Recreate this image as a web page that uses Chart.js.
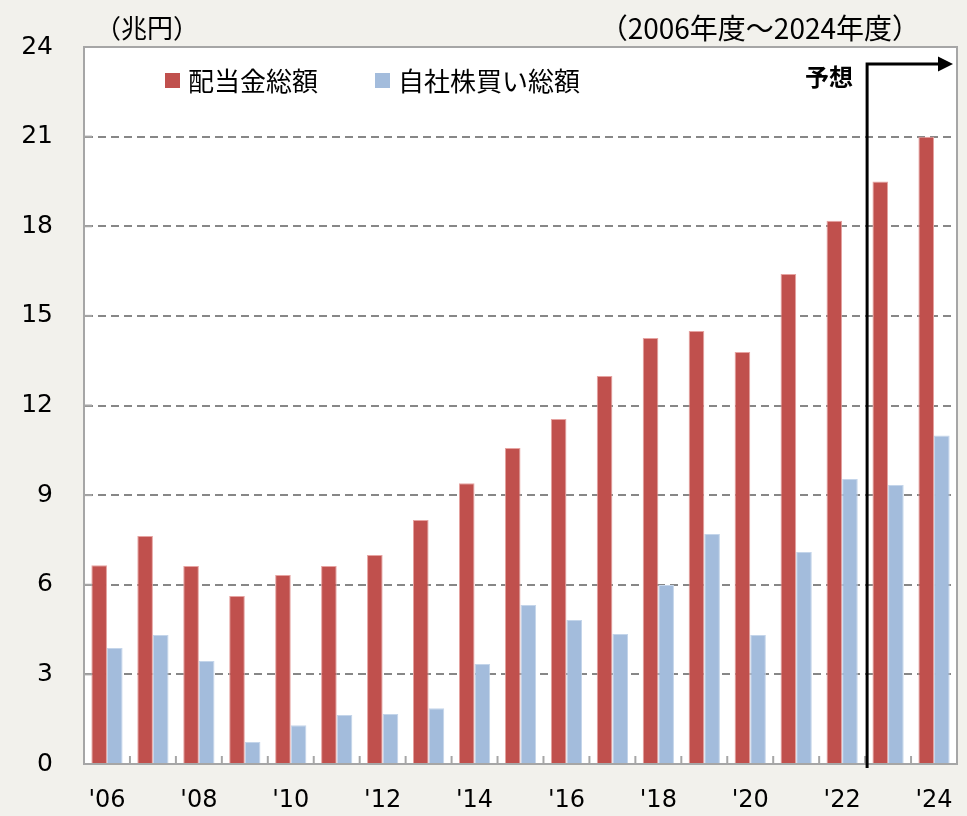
<!DOCTYPE html>
<html lang="ja">
<head>
    <meta charset="UTF-8">
    <title>配当金総額と自社株買い総額</title>
    <script src="https://cdn.jsdelivr.net/npm/chart.js"></script>
    <style>
        body { margin: 0; background: #f2f1ec; }
        #wrap { width: 967px; height: 816px; }
    </style>
</head>
<body>
    <div id="wrap"><canvas id="payoutChart" width="967" height="816"></canvas></div>

    <script>
        // fiscal years 2006 - 2024
        const years = ["'06", "'07", "'08", "'09", "'10", "'11", "'12", "'13", "'14", "'15",
                       "'16", "'17", "'18", "'19", "'20", "'21", "'22", "'23", "'24"];
        // 配当金総額 (兆円)
        const dividends = [6.65, 7.63, 6.63, 5.62, 6.33, 6.63, 7.0, 8.17, 9.4, 10.58,
                           11.55, 12.99, 14.26, 14.49, 13.79, 16.4, 18.18, 19.5, 21.0];
        // 自社株買い総額 (兆円)
        const buybacks = [3.88, 4.32, 3.45, 0.74, 1.3, 1.64, 1.67, 1.87, 3.35, 5.32,
                          4.82, 4.35, 5.99, 7.7, 4.32, 7.1, 9.54, 9.34, 11.0];
        const yTicks = [0, 3, 6, 9, 12, 15, 18, 21, 24];
        const forecastFrom = 17; // index of '23

        const numFont = "'DejaVu Sans', Verdana, sans-serif";
        const jpFont = "'Noto Sans CJK JP', 'Noto Sans', sans-serif";

        const decor = {
            id: "decor",
            beforeDraw(chart) {
                const { ctx, chartArea: a } = chart;
                ctx.save();
                ctx.fillStyle = "#f2f1ec";
                ctx.fillRect(0, 0, chart.width, chart.height);
                ctx.fillStyle = "#ffffff";
                ctx.fillRect(a.left, a.top, a.right - a.left, a.bottom - a.top);
                ctx.restore();
            },
            afterDraw(chart) {
                const { ctx, chartArea: a } = chart;
                const x = chart.scales.x, y = chart.scales.y;
                ctx.save();

                // plot frame
                ctx.strokeStyle = "#a6a6a6";
                ctx.lineWidth = 2;
                ctx.strokeRect(a.left, a.top, a.right - a.left, a.bottom - a.top);

                // inward ticks on y axis
                y.ticks.forEach(t => {
                    const py = y.getPixelForValue(t.value);
                    ctx.beginPath();
                    ctx.moveTo(a.left, py);
                    ctx.lineTo(a.left + 8, py);
                    ctx.stroke();
                });
                // inward ticks between categories
                for (let i = 1; i < years.length; i++) {
                    const px = (x.getPixelForValue(i - 1) + x.getPixelForValue(i)) / 2;
                    ctx.beginPath();
                    ctx.moveTo(px, a.bottom);
                    ctx.lineTo(px, a.bottom - 8);
                    ctx.stroke();
                }

                // legend
                ctx.font = "26px " + jpFont;
                ctx.textBaseline = "middle";
                ctx.textAlign = "left";
                let lx = a.left + 81;
                chart.data.datasets.forEach(ds => {
                    ctx.fillStyle = ds.backgroundColor;
                    ctx.fillRect(lx, 73, 15, 15);
                    ctx.fillStyle = "#000";
                    ctx.fillText(ds.label, lx + 23, 81);
                    lx += 23 + ctx.measureText(ds.label).width + 57;
                });

                // titles
                ctx.font = "26px " + jpFont;
                ctx.fillText("（兆円）", 95, 28);
                ctx.font = "28px " + jpFont;
                ctx.textAlign = "right";
                ctx.fillText("（2006年度～2024年度）", 920, 28);

                // forecast marker
                const fx = (x.getPixelForValue(forecastFrom - 1) + x.getPixelForValue(forecastFrom)) / 2 + 2;
                const ay = 64;
                ctx.strokeStyle = "#000";
                ctx.lineWidth = 3;
                ctx.beginPath();
                ctx.moveTo(fx, a.bottom + 4);
                ctx.lineTo(fx, ay);
                ctx.lineTo(a.right - 18, ay);
                ctx.stroke();
                ctx.fillStyle = "#000";
                ctx.beginPath();
                ctx.moveTo(a.right - 19, ay - 7.5);
                ctx.lineTo(a.right - 4, ay);
                ctx.lineTo(a.right - 19, ay + 7.5);
                ctx.closePath();
                ctx.fill();

                ctx.font = "bold 24px " + jpFont;
                ctx.textAlign = "center";
                ctx.fillText("予想", fx - 38, 77);
                ctx.restore();
            }
        };

        const ctx = document.getElementById("payoutChart").getContext("2d");
        new Chart(ctx, {
            type: "bar",
            data: {
                labels: years,
                datasets: [{
                    label: "配当金総額",
                    data: dividends,
                    backgroundColor: "#c0504d",
                    borderColor: "#e6a3a1",
                    borderWidth: 1,
                    categoryPercentage: 0.68,
                    barPercentage: 1.0
                }, {
                    label: "自社株買い総額",
                    data: buybacks,
                    backgroundColor: "#a3bcdc",
                    borderColor: "#c4d5ea",
                    borderWidth: 1,
                    categoryPercentage: 0.68,
                    barPercentage: 1.0
                }]
            },
            options: {
                responsive: false,
                devicePixelRatio: 1,
                animation: false,
                layout: { padding: { top: 47, right: 10, left: 0, bottom: 0 } },
                plugins: {
                    legend: { display: false },
                    tooltip: { enabled: false }
                },
                scales: {
                    x: {
                        grid: { display: false, drawTicks: false },
                        border: { color: "#a6a6a6", width: 2 },
                        ticks: {
                            autoSkip: false,
                            maxRotation: 0,
                            padding: 22,
                            color: "#000",
                            font: { family: numFont, size: 24 },
                            callback: (v, i) => (i % 2 === 0 ? years[i] : "")
                        },
                        afterFit: s => {
                            s.height = 52;
                            s.paddingLeft = 0;
                            s.paddingRight = 0;
                        }
                    },
                    y: {
                        min: 0,
                        max: 24,
                        afterBuildTicks: s => { s.ticks = yTicks.map(v => ({ value: v })); },
                        grid: { color: "#878787", lineWidth: 2, drawTicks: false },
                        border: { color: "#a6a6a6", width: 2, dash: [8, 5] },
                        ticks: {
                            padding: 31,
                            color: "#000",
                            font: { family: numFont, size: 25 }
                        },
                        afterFit: s => { s.width = 84; }
                    }
                }
            },
            plugins: [decor]
        });
    </script>
</body>
</html>
